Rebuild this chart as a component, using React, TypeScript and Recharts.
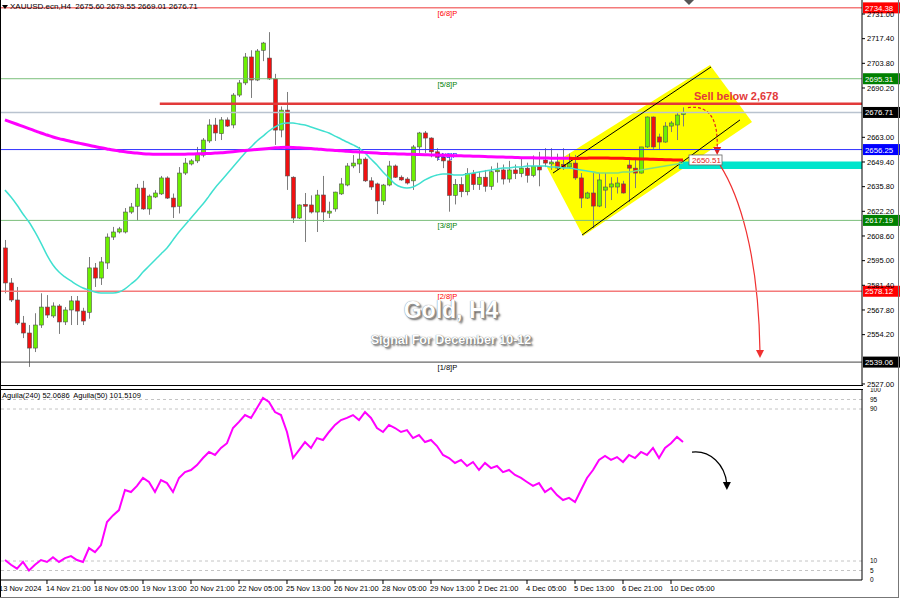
import React from 'react';
import {
  ComposedChart,
  Bar,
  Line,
  XAxis,
  YAxis,
  ReferenceLine,
  ReferenceArea,
  ReferenceDot,
} from 'recharts';

// H4 candles, XAUUSD, 13 Nov - 10 Dec 2024
const opens = [
  2602, 2582.7, 2573.3, 2560.6, 2555.1, 2546.8, 2559.5, 2569.4, 2564.5, 2570,
  2561.2, 2567.8, 2572.8, 2567.2, 2566.5, 2591, 2585.4, 2593.7, 2608, 2610.8,
  2610.8, 2621.8, 2625, 2635, 2623.5, 2630.1, 2631.8, 2640.6, 2629.5, 2625,
  2643.3, 2648.3, 2650, 2653.2, 2661, 2669.8, 2665, 2672.6, 2669.8, 2686.3,
  2693, 2707.3, 2694.6, 2711, 2706.7, 2695.2, 2667, 2678, 2641, 2618.5,
  2626, 2625.7, 2621.8, 2631.2, 2621.2, 2623.5, 2631.8, 2636.7, 2647.2, 2648.3,
  2651, 2639, 2637.3, 2627.9, 2636.7, 2647.2, 2641, 2640, 2639, 2657.7,
  2665.4, 2662.6, 2655, 2652, 2650, 2631, 2637, 2633, 2643, 2637,
  2641, 2636, 2644, 2645, 2640, 2645, 2643, 2646, 2642, 2647,
  2650.5, 2648.3, 2649.4, 2648, 2646.6, 2648.8, 2640.6, 2629.5, 2632.3, 2625.1,
  2633.9, 2635.6, 2635.6, 2637.3, 2647.7, 2646, 2643.3, 2657.7, 2674.2, 2663.2,
  2660.4, 2669.2, 2669.8, 2675.6,
];
const highs = [
  2606.4, 2585.4, 2580.5, 2564.5, 2559.5, 2566, 2577, 2576, 2572, 2571,
  2569.4, 2575.5, 2575.5, 2569, 2597, 2593.7, 2597, 2610, 2613.6, 2613.6,
  2624, 2626.8, 2637.3, 2639, 2631.5, 2633.9, 2641.7, 2641.5, 2632, 2646.6,
  2651.6, 2651, 2657.7, 2662.6, 2673, 2673.7, 2674.2, 2674, 2687.4, 2694.6,
  2709.5, 2711, 2711.7, 2715.6, 2721, 2698, 2680, 2688, 2641.5, 2626,
  2632.3, 2631, 2634, 2641.7, 2627.5, 2633, 2640.6, 2648.8, 2653.2, 2657.7,
  2652, 2641, 2638, 2637.3, 2650, 2648, 2642, 2641, 2658.8, 2666,
  2666.5, 2663, 2657, 2654, 2652, 2640, 2641, 2646, 2645, 2644,
  2645, 2647, 2649, 2648, 2650, 2648, 2651, 2649, 2653, 2655,
  2657, 2657, 2654, 2657, 2654, 2653.3, 2643.3, 2633, 2643.3, 2643.3,
  2643.3, 2641, 2641, 2639, 2650.5, 2650.5, 2657.7, 2674.5, 2674.5, 2665,
  2671.4, 2672, 2676.4, 2679.55,
];
const lows = [
  2577, 2572.2, 2559.5, 2552.3, 2536.4, 2544.6, 2557.9, 2563.4, 2563.4, 2554.6,
  2559.5, 2559.5, 2559.5, 2559.5, 2563, 2580.5, 2581.6, 2590.4, 2606.4, 2610,
  2610, 2620.8, 2617, 2623, 2620.3, 2629.5, 2631.2, 2629, 2618.5, 2621,
  2642.2, 2647.5, 2648.8, 2652, 2659.9, 2661, 2661.5, 2668.7, 2668, 2685.2,
  2691.8, 2684.7, 2694, 2705, 2694.6, 2658.8, 2663, 2634, 2615.8, 2618,
  2605.3, 2621, 2610.8, 2616.3, 2618.5, 2622, 2631.2, 2636, 2646, 2643.3,
  2638.4, 2634, 2620.7, 2625.7, 2636, 2640.6, 2639, 2637, 2634, 2654.4,
  2654.4, 2652, 2650, 2646, 2622, 2626, 2630, 2631, 2634, 2634,
  2633, 2634, 2638, 2637, 2638, 2640, 2641, 2638, 2641, 2636,
  2646.6, 2645, 2645, 2645, 2646, 2639.5, 2624, 2629, 2613, 2624.5,
  2624, 2628.4, 2632, 2632, 2627.3, 2635, 2643, 2657.1, 2656.6, 2656,
  2660, 2665.9, 2661.5, 2669.01,
];
const closes = [
  2582.7, 2573.3, 2560.6, 2555.1, 2546.8, 2559.5, 2569.4, 2565, 2570, 2561.2,
  2567.8, 2572.8, 2567.2, 2561.7, 2591, 2585.4, 2594.3, 2608, 2610.8, 2612.5,
  2621.8, 2624.6, 2635, 2623.5, 2630.6, 2632.3, 2640.6, 2629.5, 2624.6, 2643.3,
  2648.8, 2650, 2653.8, 2661.5, 2669.8, 2665.4, 2672.6, 2669.2, 2686.3, 2693,
  2707.3, 2694.6, 2710.6, 2715, 2695.2, 2667, 2678, 2641.7, 2618.5, 2625.7,
  2625, 2621.8, 2631.2, 2621.8, 2622.3, 2632.8, 2637.3, 2647.2, 2648.8, 2651,
  2639, 2635.6, 2627.9, 2636.7, 2647.2, 2641, 2639.5, 2637.8, 2657.7, 2665.4,
  2662.6, 2655, 2652, 2650, 2631, 2637, 2633, 2643, 2637, 2641,
  2636, 2644, 2645, 2640, 2645, 2643, 2646, 2642, 2647, 2645,
  2648.8, 2649.4, 2646.1, 2646.5, 2648.8, 2640.6, 2629.5, 2632.3, 2625.1, 2639.5,
  2635.6, 2637.3, 2637.8, 2632.3, 2646, 2643.3, 2657.7, 2674.2, 2657.7, 2660.4,
  2669.2, 2670.9, 2675.3, 2676.71,
];

// slow moving average (magenta, turns red at the end)
const maSlow = [
  2672.6, 2671.4, 2670.2, 2669.0, 2667.8, 2666.6, 2665.4, 2664.3, 2663.2, 2662.3,
  2661.5, 2660.7, 2660.0, 2659.3, 2658.6, 2657.9, 2657.2, 2656.6, 2656.0, 2655.5,
  2655.0, 2654.6, 2654.3, 2654.0, 2653.8, 2653.7, 2653.6, 2653.6, 2653.6, 2653.6,
  2653.7, 2653.8, 2653.9, 2654.0, 2654.1, 2654.3, 2654.5, 2654.8, 2655.1, 2655.4,
  2655.7, 2656.0, 2656.3, 2656.6, 2656.9, 2657.2, 2657.4, 2657.5, 2657.4, 2657.2,
  2657.0, 2656.8, 2656.6, 2656.3, 2656.0, 2655.8, 2655.6, 2655.3, 2655.1, 2654.9,
  2654.7, 2654.5, 2654.3, 2654.1, 2654.0, 2653.9, 2653.8, 2653.7, 2653.6, 2653.5,
  2653.4, 2653.3, 2653.2, 2653.1, 2653.0, 2652.9, 2652.8, 2652.7, 2652.6, 2652.5,
  2652.4, 2652.3, 2652.2, 2652.1, 2652.0, 2651.9, 2651.8, 2651.7, 2651.7, 2651.6,
  2651.6, 2651.5, 2651.5, 2651.4, 2651.4, 2651.3, 2651.4, 2651.5, 2651.6, 2651.6,
  2651.6, 2651.5, 2651.5, 2651.4, 2651.3, 2651.2, 2651.1, 2651.0, 2650.9, 2650.8,
  2650.7, 2650.6, 2650.5, 2650.51,
];

// fast moving average (turquoise, turns green at the end)
const maFast = [
  2633.9, 2630.1, 2625.7, 2620.7, 2616.3, 2610.8, 2604.7, 2598.1, 2592.6, 2588.7,
  2586.0, 2583.8, 2581.6, 2579.9, 2578.8, 2577.7, 2577.2, 2577.2, 2577.2, 2577.7,
  2579.4, 2582.1, 2584.9, 2588.7, 2592.0, 2595.4, 2598.7, 2602.0, 2606.4, 2610.8,
  2614.7, 2618.5, 2622.4, 2626.2, 2630.6, 2635.1, 2638.9, 2642.8, 2646.6, 2650.5,
  2654.4, 2657.7, 2661.0, 2663.7, 2666.5, 2668.7, 2670.3, 2670.9, 2670.9, 2670.3,
  2669.8, 2668.7, 2667.6, 2666.5, 2665.4, 2663.7, 2662.1, 2660.4, 2658.8, 2657.1,
  2654.4, 2651.0, 2647.7, 2643.9, 2640.6, 2637.3, 2635.6, 2635.1, 2635.6, 2637.3,
  2639.5, 2641.1, 2642.2, 2642.8, 2642.8, 2642.2, 2642.2, 2642.8, 2643.3, 2643.9,
  2644.4, 2645.0, 2645.5, 2646.1, 2646.1, 2646.6, 2646.6, 2647.2, 2647.2, 2647.2,
  2647.2, 2646.6, 2646.6, 2646.1, 2646.1, 2645.5, 2645.0, 2644.4, 2643.9, 2643.3,
  2643.3, 2643.3, 2643.3, 2643.9, 2643.9, 2644.4, 2645.0, 2645.5, 2646.1, 2646.6,
  2647.2, 2647.7, 2648.3, 2648.8,
];

// Aguila oscillator (lower pane)
const aguila = [
  10.5, 8, 6, 9.5, 5, 8, 10.5, 9.5, 12, 9.5,
  11.5, 12.6, 10.5, 9.5, 16.8, 14.7, 18.4, 30.5, 34, 36.8,
  47.4, 46.3, 49.5, 53.7, 51.6, 46.3, 52.6, 51, 46.3, 53.7,
  56.8, 57.9, 60.5, 64.2, 67.4, 65.8, 69.5, 72, 80, 83.2,
  86.8, 85.3, 90.5, 95.8, 93.7, 88.4, 86.8, 77.9, 64.2, 68.4,
  72.6, 69.5, 74.7, 73.7, 77.9, 81.6, 84.2, 85.3, 86.8, 84.2,
  88.4, 85.3, 80, 77.9, 81.6, 80, 77.9, 78.9, 74.7, 76.3,
  72.6, 73.7, 70.5, 65.8, 64.2, 61.6, 63.2, 60, 62.1, 57.9,
  61.6, 58.9, 60, 56.8, 57.9, 55.3, 53.7, 51.6, 49.5, 51,
  46.3, 48.4, 44.7, 42.1, 43.2, 41, 47.4, 53.7, 57.9, 63.2,
  65.3, 63.2, 64.7, 62.1, 65.8, 64.2, 67.4, 65.8, 69.5, 64.2,
  69.5, 72, 75.3, 72.6,
];

const timeTickBars = [-0.83, 7, 15, 23, 31, 39, 47, 55, 63, 71, 79, 87, 95, 103, 111];
const timeTickLabels = [
  '13 Nov 2024', '14 Nov 21:00', '18 Nov 05:00', '19 Nov 13:00', '20 Nov 21:00',
  '22 Nov 05:00', '25 Nov 13:00', '26 Nov 21:00', '28 Nov 05:00', '29 Nov 13:00',
  '2 Dec 21:00', '4 Dec 05:00', '5 Dec 13:00', '6 Dec 21:00', '10 Dec 05:00',
];
const priceTicks = [
  2731, 2717.4, 2703.8, 2690.2, 2663, 2649.4, 2635.8, 2622.2, 2608.6, 2595,
  2581.4, 2567.8, 2554.2, 2527,
];
const aguilaTicks = [0, 5, 10, 90, 95, 100];
const aguilaGuides = [5, 10, 90, 95];

// Murrey math levels
const levelTags = ['[6/8]P', '[5/8]P', '[4/8]P', '[3/8]P', '[2/8]P', '[1/8]P'];
const levelPrices = [2734.38, 2695.31, 2656.25, 2617.19, 2578.12, 2539.06];

const lastPrice = 2676.71;
const sellLine = 2681.5;
const maSlowLast = 2650.51;
const supportZone = [2645.6, 2649.6];

const FONT = '"Liberation Sans", Arial, sans-serif';
const LEVEL_LINE = ['#f47a7a', '#7cbf7c', '#3030ff', '#7cbf7c', '#f47a7a', '#444444'];
const LEVEL_TEXT = ['#ff0000', '#008000', '#0000ff', '#008000', '#ff0000', '#000000'];
const LEVEL_BOX = ['#ff0000', '#008000', '#0000ff', '#008000', '#ff0000', '#000000'];

const X_DOMAIN = [-0.83, 142.83];

const rows = opens.map((o, i) => ({
  i,
  open: o,
  high: highs[i],
  low: lows[i],
  close: closes[i],
  maSlowA: i <= 95 ? maSlow[i] : null,
  maSlowB: i >= 94 ? maSlow[i] : null,
  maFastA: i <= 99 ? maFast[i] : null,
  maFastB: i >= 98 ? maFast[i] : null,
  aguila: aguila[i],
}));

const Candle = (props: any) => {
  const { x, y, width, height, payload } = props;
  if (!payload || height == null || isNaN(y)) return null;
  const { open, close, high, low } = payload;
  const k = height / (high - low || 1);
  const cx = Math.round(x + width / 2) + 0.5;
  const top = y + (high - Math.max(open, close)) * k;
  const bot = y + (high - Math.min(open, close)) * k;
  const up = close >= open;
  return (
    <g>
      <line x1={cx} x2={cx} y1={y} y2={y + height} stroke="#7d7d7d" strokeWidth={1} />
      <rect
        x={cx - 2}
        y={top}
        width={4}
        height={Math.max(1, bot - top)}
        fill={up ? '#6cf000' : '#f01010'}
        stroke="#505050"
        strokeWidth={0.6}
      />
    </g>
  );
};

const LevelTag = ({ viewBox, tag, value, tagColor, boxColor }: any) => {
  if (!viewBox) return null;
  const { x, y, width } = viewBox;
  return (
    <g fontFamily={FONT}>
      {tag ? (
        <text x={x + width * 0.519} y={y + 8} textAnchor="middle" fontSize={7.5} fill={tagColor}>
          {tag}
        </text>
      ) : null}
      <rect x={x + width + 1} y={y - 5.5} width={37} height={11} fill={boxColor} />
      <text x={x + width + 3} y={y + 3} fontSize={7.8} fill="#ffffff">
        {value.toFixed(2)}
      </text>
    </g>
  );
};

// shape helper: draws a path given in 0..1 units of the reference area's box
const curveArrow = (pts: number[][], color: string, dashed: boolean) => (p: any) => {
  const { x, y, width, height } = p;
  const P = (q: number[]) => [x + q[0] * width, y + q[1] * height];
  const [a, b, c, d] = pts.map(P);
  const tip = d;
  return (
    <g>
      <path
        d={`M${a[0]},${a[1]} C${b[0]},${b[1]} ${c[0]},${c[1]} ${d[0]},${d[1] - 6}`}
        fill="none"
        stroke={color}
        strokeWidth={1.2}
        strokeDasharray={dashed ? '3 2' : undefined}
      />
      <path d={`M${tip[0] - 4},${tip[1] - 8} L${tip[0] + 4},${tip[1] - 8} L${tip[0]},${tip[1]} Z`} fill={color} />
    </g>
  );
};

const yellowBox = (p: any) => {
  const { x, y, width, height } = p;
  const pts = [
    [0, 0.6],
    [0.795, 0],
    [1, 0.333],
    [0.176, 1],
  ].map((q) => `${x + q[0] * width},${y + q[1] * height}`);
  return <polygon points={pts.join(' ')} fill="#ffff00" />;
};

const TimeTick = ({ x, y, payload }: any) => {
  const idx = timeTickBars.indexOf(payload.value);
  return (
    <text x={x - 1} y={y + 6} fontSize={7.5} fill="#000" fontFamily={FONT} textAnchor="start">
      {timeTickLabels[idx]}
    </text>
  );
};

export default function App() {
  return (
    <div
      style={{
        position: 'absolute',
        left: 0,
        top: 0,
        width: 900,
        height: 600,
        background: '#ffffff',
        overflow: 'hidden',
        fontFamily: FONT,
      }}
    >
      {/* price pane */}
      <div style={{ position: 'absolute', left: 0, top: 0 }}>
        <ComposedChart width={900} height={391} data={rows} margin={{ top: 0, right: 0, bottom: 6, left: 0 }}>
          <XAxis type="number" dataKey="i" domain={X_DOMAIN} allowDataOverflow hide />
          <YAxis
            orientation="right"
            width={38}
            domain={[2526.43, 2738.72]}
            allowDataOverflow
            ticks={priceTicks}
            interval={0}
            tickFormatter={(v: number) => v.toFixed(2)}
            tick={{ fontSize: 7.5, fill: '#000', fontFamily: FONT }}
            tickSize={3}
            tickMargin={2}
            axisLine={{ stroke: '#000' }}
            tickLine={{ stroke: '#000' }}
          />
          <ReferenceArea
            x1={90.33}
            x2={124.5}
            y1={2608.6}
            y2={2702.9}
            ifOverflow="visible"
            shape={yellowBox}
          />
          <ReferenceArea
            x1={112.3}
            x2={X_DOMAIN[1]}
            y1={supportZone[0]}
            y2={supportZone[1]}
            fill="#00e5cc"
            fillOpacity={1}
            stroke="none"
          />
          {levelPrices.map((p, k) => (
            <ReferenceLine
              key={levelTags[k]}
              y={p}
              stroke={LEVEL_LINE[k]}
              strokeWidth={k === 0 || k === 4 ? 1.5 : 1}
              label={
                <LevelTag tag={levelTags[k]} value={p} tagColor={LEVEL_TEXT[k]} boxColor={LEVEL_BOX[k]} />
              }
            />
          ))}
          <ReferenceLine
            y={lastPrice}
            stroke="#b9c3cf"
            strokeWidth={1.5}
            label={<LevelTag value={lastPrice} boxColor="#000000" />}
          />
          <ReferenceLine
            segment={[
              { x: 25.8, y: sellLine },
              { x: X_DOMAIN[1], y: sellLine },
            ]}
            stroke="#e23a3a"
            strokeWidth={2.5}
          />
          <ReferenceLine
            segment={[
              { x: 91.33, y: 2643.3 },
              { x: 117.67, y: 2701.8 },
            ]}
            stroke="#000"
            strokeWidth={1}
          />
          <ReferenceLine
            segment={[
              { x: 96.17, y: 2609.1 },
              { x: 122.5, y: 2672.6 },
            ]}
            stroke="#000"
            strokeWidth={1}
          />
          <Line dataKey="maFastA" stroke="#40e0d0" strokeWidth={1.5} dot={false} type="monotone" isAnimationActive={false} />
          <Line dataKey="maFastB" stroke="#7fe07f" strokeWidth={1.5} dot={false} type="monotone" isAnimationActive={false} />
          <Line dataKey="maSlowA" stroke="#ff00ff" strokeWidth={3} dot={false} type="monotone" isAnimationActive={false} />
          <Line dataKey="maSlowB" stroke="#ff1010" strokeWidth={3} dot={false} type="monotone" isAnimationActive={false} />
          <Bar
            dataKey={(d: any) => [d.low, d.high]}
            barSize={4}
            isAnimationActive={false}
            shape={(p: any) => <Candle {...p} />}
          />
          <ReferenceDot
            x={114}
            y={maSlowLast}
            r={0}
            ifOverflow="visible"
            shape={(p: any) => (
              <g fontFamily={FONT}>
                <rect x={p.cx} y={p.cy - 5} width={33} height={10} fill="#ffffff" stroke="#666" strokeWidth={0.8} />
                <text x={p.cx + 3} y={p.cy + 3} fontSize={8} fill="#e02020">
                  {maSlowLast.toFixed(2)}
                </text>
              </g>
            )}
          />
          <ReferenceDot
            x={114.83}
            y={2683.4}
            r={0}
            ifOverflow="visible"
            shape={(p: any) => (
              <text x={p.cx} y={p.cy} fontSize={11} fontWeight="bold" fill="#e23a3a" fontFamily={FONT}>
                Sell below 2,678
              </text>
            )}
          />
          <ReferenceArea
            x1={113.5}
            x2={119.83}
            y1={2653.3}
            y2={2680.8}
            ifOverflow="visible"
            shape={curveArrow(
              [
                [0.05, 0.05],
                [0.6, 0.0],
                [0.85, 0.25],
                [0.82, 1],
              ],
              '#e02020',
              true
            )}
          />
          <ReferenceArea
            x1={118.5}
            x2={126.83}
            y1={2541.3}
            y2={2647.7}
            ifOverflow="visible"
            shape={curveArrow(
              [
                [0.08, 0.0],
                [0.45, 0.15],
                [0.85, 0.45],
                [0.88, 1],
              ],
              '#f03030',
              false
            )}
          />
        </ComposedChart>
      </div>

      {/* oscillator pane */}
      <div style={{ position: 'absolute', left: 0, top: 388, background: '#fff' }}>
        <ComposedChart width={900} height={212} data={rows} margin={{ top: 2, right: 0, bottom: 0, left: 0 }}>
          <XAxis
            type="number"
            dataKey="i"
            domain={X_DOMAIN}
            allowDataOverflow
            ticks={timeTickBars}
            interval={0}
            height={20}
            tick={<TimeTick />}
            tickSize={4}
            tickMargin={1}
            axisLine={{ stroke: '#000' }}
            tickLine={{ stroke: '#000' }}
          />
          <YAxis
            orientation="right"
            width={38}
            domain={[0, 100]}
            allowDataOverflow
            ticks={aguilaTicks}
            interval={0}
            tick={{ fontSize: 6.5, fill: '#000', fontFamily: FONT }}
            tickLine={false}
            tickMargin={2}
            axisLine={{ stroke: '#000' }}
          />
          {aguilaGuides.map((g) => (
            <ReferenceLine key={g} y={g} stroke="#c4c4c4" strokeDasharray="3 3" />
          ))}
          <Line dataKey="aguila" stroke="#ff00ff" strokeWidth={2} dot={false} type="linear" isAnimationActive={false} />
          <ReferenceArea
            x1={114.5}
            x2={121.33}
            y1={47.4}
            y2={69.5}
            ifOverflow="visible"
            shape={curveArrow(
              [
                [0, 0.1],
                [0.45, 0.05],
                [0.8, 0.4],
                [0.85, 1],
              ],
              '#000000',
              false
            )}
          />
        </ComposedChart>
      </div>

      {/* frame lines */}
      <div style={{ position: 'absolute', left: 0, top: 0, width: 1, height: 598, background: '#000' }} />
      <div style={{ position: 'absolute', left: 0, top: 385, width: 863, height: 1, background: '#000' }} />
      <div style={{ position: 'absolute', left: 0, top: 389, width: 863, height: 1, background: '#000' }} />
      <div style={{ position: 'absolute', left: 0, top: 597, width: 899, height: 1, background: '#777' }} />
      <div style={{ position: 'absolute', left: 898, top: 0, width: 1, height: 598, background: '#777' }} />
      <div
        style={{
          position: 'absolute',
          left: 684,
          top: 0,
          width: 0,
          height: 0,
          borderLeft: '5px solid transparent',
          borderRight: '5px solid transparent',
          borderTop: '5px solid #555',
        }}
      />

      {/* headers */}
      <div
        style={{
          position: 'absolute',
          left: 2,
          top: 5,
          width: 0,
          height: 0,
          borderLeft: '3px solid transparent',
          borderRight: '3px solid transparent',
          borderTop: '4px solid #000',
        }}
      />
      <div style={{ position: 'absolute', left: 10, top: 2, fontSize: 8, lineHeight: '10px', color: '#000', whiteSpace: 'pre' }}>
        {'XAUUSD.ecn,H4  2675.60 2679.55 2669.01 2676.71'}
      </div>
      <div style={{ position: 'absolute', left: 2, top: 391, fontSize: 7.5, lineHeight: '9px', color: '#000', whiteSpace: 'pre' }}>
        {'Aguila(240) 52.0686  Aguila(50) 101.5109'}
      </div>

      {/* watermark titles */}
      <div
        style={{
          position: 'absolute',
          left: 351,
          top: 298,
          width: 200,
          textAlign: 'center',
          fontSize: 23,
          lineHeight: '24px',
          fontWeight: 'bold',
          color: '#ffffff',
          textShadow: '0 0 1px #666, 1px 1px 0 #999, 2px 2px 2px #666',
        }}
      >
        Gold, H4
      </div>
      <div
        style={{
          position: 'absolute',
          left: 301,
          top: 332,
          width: 300,
          textAlign: 'center',
          fontSize: 12.5,
          lineHeight: '16px',
          fontWeight: 'bold',
          color: '#ffffff',
          textShadow: '0 0 1px #555, 1px 1px 0 #999, 2px 2px 2px #666',
        }}
      >
        Signal For December 10-12
      </div>
    </div>
  );
}
